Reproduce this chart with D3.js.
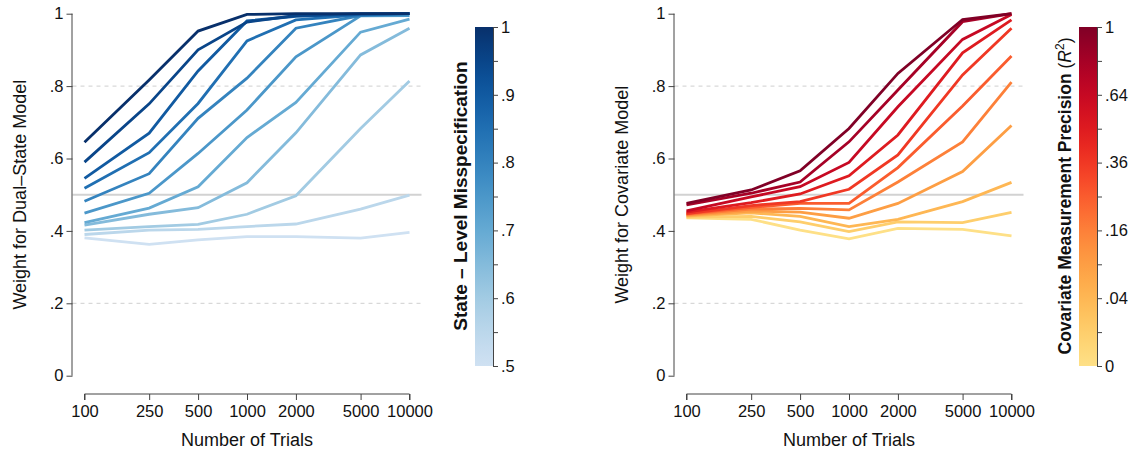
<!DOCTYPE html>
<html>
<head>
<meta charset="utf-8">
<script src="https://cdn.jsdelivr.net/npm/d3@7"></script>
<style>
body{margin:0;background:#fff;}
svg text{font-family:"Liberation Sans",Arial,sans-serif;fill:#111;}
</style>
</head>
<body>
<svg id="chart"></svg>
<script>
// data
var trials = [100, 250, 500, 1000, 2000, 5000, 10000];
var trialLabels = ['100','250','500','1000','2000','5000','10000'];
var yTicks = [0, .2, .4, .6, .8, 1];
var yTickLabels = ['0','.2','.4','.6','.8','1'];

// left: state-level misspecification, one line per level
var misspec = [.5, .55, .6, .65, .7, .75, .8, .85, .9, .95, 1];
var dualState = [
	[.381, .363, .375, .384, .384, .380, .396],
	[.390, .402, .404, .412, .419, .460, .499],
	[.402, .412, .418, .446, .497, .683, .814],
	[.416, .446, .464, .533, .671, .886, .960],
	[.423, .463, .522, .658, .755, .949, .985],
	[.449, .504, .614, .734, .881, .994, .995],
	[.482, .558, .711, .822, .960, .995, 1],
	[.518, .616, .752, .925, .983, .997, 1],
	[.545, .670, .842, .980, .993, .998, 1],
	[.590, .751, .900, .977, .995, 1, 1],
	[.645, .817, .952, .998, 1, 1, 1]
];
var misspecTicks = [.5, .55, .6, .65, .7, .75, .8, .85, .9, .95, 1];
var misspecLabels = ['.5','','.6','','.7','','.8','','.9','','1'];

// right: covariate measurement precision (R), one line per level
var precisionR = [0, .1, .2, .3, .4, .5, .6, .7, .8, .9, 1];
var covariate = [
	[.436, .432, .402, .378, .407, .404, .386],
	[.438, .440, .425, .398, .425, .423, .451],
	[.441, .450, .440, .412, .432, .481, .534],
	[.443, .455, .452, .435, .476, .564, .691],
	[.445, .460, .462, .458, .535, .646, .811],
	[.447, .465, .476, .476, .575, .745, .883],
	[.448, .470, .481, .515, .610, .831, .960],
	[.452, .478, .502, .552, .665, .892, .983],
	[.455, .494, .522, .589, .743, .929, .998],
	[.472, .504, .535, .646, .789, .978, 1],
	[.476, .513, .566, .683, .835, .984, 1]
];
var rTicks = [0, .1, .2, .3, .4, .5, .6, .7, .8, .9, 1];
var r2Labels = ['0','','.04','','.16','','.36','','.64','','1'];

var width = 1131, height = 453;
var svg = d3.select('#chart').attr('width', width).attr('height', height);

var yScale = d3.scaleLinear().domain([0, 1]).range([375.7, 13.7]);
var tickFont = '16.5px';

function drawPanel(opt){
	var g = svg.append('g');
	var xScale = d3.scaleLog().domain([100, 10000]).range([opt.x0, opt.x0 + 325]);
	var axX = opt.x0 - 12;

	// reference lines
	g.selectAll('line.dash').data([.2, .8]).enter().append('line')
		.attr('x1', axX).attr('x2', opt.x0 + 337)
		.attr('y1', yScale).attr('y2', yScale)
		.attr('stroke', '#cfcfcf').attr('stroke-width', 1).attr('stroke-dasharray', '4,4');
	g.append('line')
		.attr('x1', axX).attr('x2', opt.x0 + 337)
		.attr('y1', yScale(.5)).attr('y2', yScale(.5))
		.attr('stroke', '#d2d2d2').attr('stroke-width', 2);

	// y axis
	var axisY = d3.axisLeft(yScale).tickValues(yTicks).tickSize(6)
		.tickFormat(function(d, i){ return yTickLabels[i]; });
	var yG = g.append('g').attr('transform', 'translate(' + axX + ',0)').call(axisY);
	yG.select('.domain').attr('d', 'M-0.5,' + yScale(0) + 'V' + yScale(1)).attr('stroke', '#444');
	yG.selectAll('.tick line').attr('stroke', '#444');
	yG.selectAll('.tick text').attr('x', -9).style('font-size', tickFont).style('font-family', '"Liberation Sans",Arial,sans-serif').attr('fill', '#111');

	// x axis
	var axisX = d3.axisBottom(xScale).tickValues(trials).tickSize(6)
		.tickFormat(function(d, i){ return trialLabels[i]; });
	var xG = g.append('g').attr('transform', 'translate(0,394)').call(axisX);
	xG.select('.domain').attr('d', 'M' + xScale(100) + ',6V0H' + xScale(10000) + 'V6').attr('stroke', '#444');
	xG.selectAll('.tick line').attr('stroke', '#444');
	xG.selectAll('.tick text').attr('y', 11).style('font-size', tickFont).style('font-family', '"Liberation Sans",Arial,sans-serif').attr('fill', '#111');

	g.append('text').attr('x', xScale(1000)).attr('y', 446)
		.attr('text-anchor', 'middle').style('font-size', '18px').text('Number of Trials');
	g.append('text').attr('transform', 'translate(' + (opt.x0 - 59) + ',' + yScale(.5) + ') rotate(-90)')
		.attr('text-anchor', 'middle').style('font-size', '18px').text(opt.yTitle);

	// lines
	var line = d3.line().x(function(d, i){ return xScale(trials[i]); }).y(function(d){ return yScale(d); });
	g.selectAll('path.series').data(opt.series).enter().append('path')
		.attr('class', 'series')
		.attr('d', line)
		.attr('fill', 'none')
		.attr('stroke-width', 2.8)
		.attr('stroke', function(d, i){ return opt.color(opt.levels[i]); });

	// colour bar
	var cb = opt.bar;
	var gid = 'grad' + Math.round(opt.x0);
	var grad = svg.append('defs').append('linearGradient').attr('id', gid)
		.attr('x1', 0).attr('x2', 0).attr('y1', 1).attr('y2', 0);
	d3.range(0, 1.0001, 0.05).forEach(function(t){
		grad.append('stop').attr('offset', t).attr('stop-color', opt.color(cb.domain[0] + t * (cb.domain[1] - cb.domain[0])));
	});
	var cScale = d3.scaleLinear().domain(cb.domain).range([366, 27]);
	g.append('rect').attr('x', cb.x).attr('y', 27).attr('width', 18).attr('height', 339)
		.attr('fill', 'url(#' + gid + ')');
	var axisC = d3.axisRight(cScale).tickValues(cb.ticks).tickSize(5)
		.tickFormat(function(d, i){ return cb.labels[i]; });
	var cG = g.append('g').attr('transform', 'translate(' + (cb.x + 18) + ',0)').call(axisC);
	cG.select('.domain').attr('d', 'M0.5,27V366').attr('stroke', '#444');
	cG.selectAll('.tick line').attr('stroke', '#444');
	cG.selectAll('.tick text').attr('x', 8).style('font-size', tickFont).style('font-family', '"Liberation Sans",Arial,sans-serif').attr('fill', '#111');

	var t = g.append('text').attr('transform', 'translate(' + (cb.x - 8) + ',196) rotate(-90)')
		.attr('text-anchor', 'middle').style('font-size', cb.titleSize);
	t.append('tspan').style('font-weight', 'bold').text(cb.title);
	if (cb.r2) {
		t.append('tspan').text(' (');
		t.append('tspan').style('font-style', 'italic').text('R');
		t.append('tspan').attr('dy', -7).style('font-size', '12px').text('2');
		t.append('tspan').attr('dy', 7).text(')');
	}
}

var blue = function(v){ return d3.interpolateBlues(0.2 + 0.8 * (v - .5) / .5); };
var red = function(r){ return d3.interpolateYlOrRd(0.2 + 0.8 * r); };

drawPanel({
	x0: 84.5, yTitle: 'Weight for Dual\u2013State Model',
	series: dualState, levels: misspec, color: blue,
	bar: {x: 475, domain: [.5, 1], ticks: misspecTicks, labels: misspecLabels, title: 'State \u2013 Level Misspecification', titleSize: '19px'}
});
drawPanel({
	x0: 686.5, yTitle: 'Weight for Covariate Model',
	series: covariate, levels: precisionR, color: red,
	bar: {x: 1079, domain: [0, 1], ticks: rTicks, labels: r2Labels, title: 'Covariate Measurement Precision', r2: true, titleSize: '17.5px'}
});
</script>
</body>
</html>
